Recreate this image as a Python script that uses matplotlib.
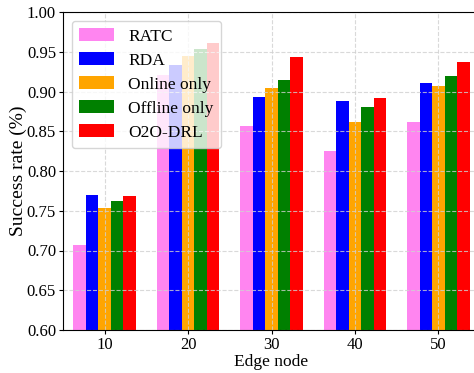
import matplotlib
matplotlib.use("Agg")
import matplotlib.pyplot as plt
import numpy as np

# Data
edge_nodes = ["10", "20", "30", "40", "50"]
methods = ["RATC", "RDA", "Online only", "Offline only", "O2O-DRL"]
ratc = [0.707, 0.921, 0.857, 0.825, 0.862]
rda = [0.770, 0.933, 0.893, 0.888, 0.911]
online_only = [0.754, 0.945, 0.904, 0.862, 0.907]
offline_only = [0.762, 0.953, 0.914, 0.880, 0.919]
o2o_drl = [0.769, 0.961, 0.943, 0.892, 0.937]
y_ticks = [0.60, 0.65, 0.70, 0.75, 0.80, 0.85, 0.90, 0.95, 1.00]

colors = ["#ff85f0", "blue", "orange", "green", "red"]
series = [ratc, rda, online_only, offline_only, o2o_drl]

plt.rcParams["font.family"] = ["Liberation Serif", "DejaVu Serif"]

fig = plt.figure(figsize=(4.74, 3.73), dpi=100)
ax = fig.add_axes([63 / 474, 43 / 373, 417 / 474, 318 / 373])

x = np.arange(len(edge_nodes))
width = 0.15
for i, (vals, name, col) in enumerate(zip(series, methods, colors)):
    ax.bar(x + (i - 2) * width, vals, width, color=col, label=name)

ax.set_ylim(0.60, 1.00)
ax.set_xlim(-0.5, 4.5)
ax.set_yticks(y_ticks)
ax.set_yticklabels([f"{v:.2f}" for v in y_ticks], fontsize=12)
ax.set_xticks(x)
ax.set_xticklabels(edge_nodes, fontsize=12)
ax.tick_params(axis="both", length=3, pad=2)
ax.set_xlabel("Edge node", fontsize=12.5, labelpad=1)
ax.set_ylabel("Success rate (%)", fontsize=14, labelpad=0)
ax.grid(True, linestyle="--", color="#d0d0d0", linewidth=0.8, alpha=0.8)

ax.legend(loc="upper left", fontsize=12.5, labelspacing=0.45,
          handlelength=2.0, handletextpad=0.8, borderpad=0.45,
          bbox_to_anchor=(0.0, 1.0))

fig.savefig("out.png", dpi=100)
